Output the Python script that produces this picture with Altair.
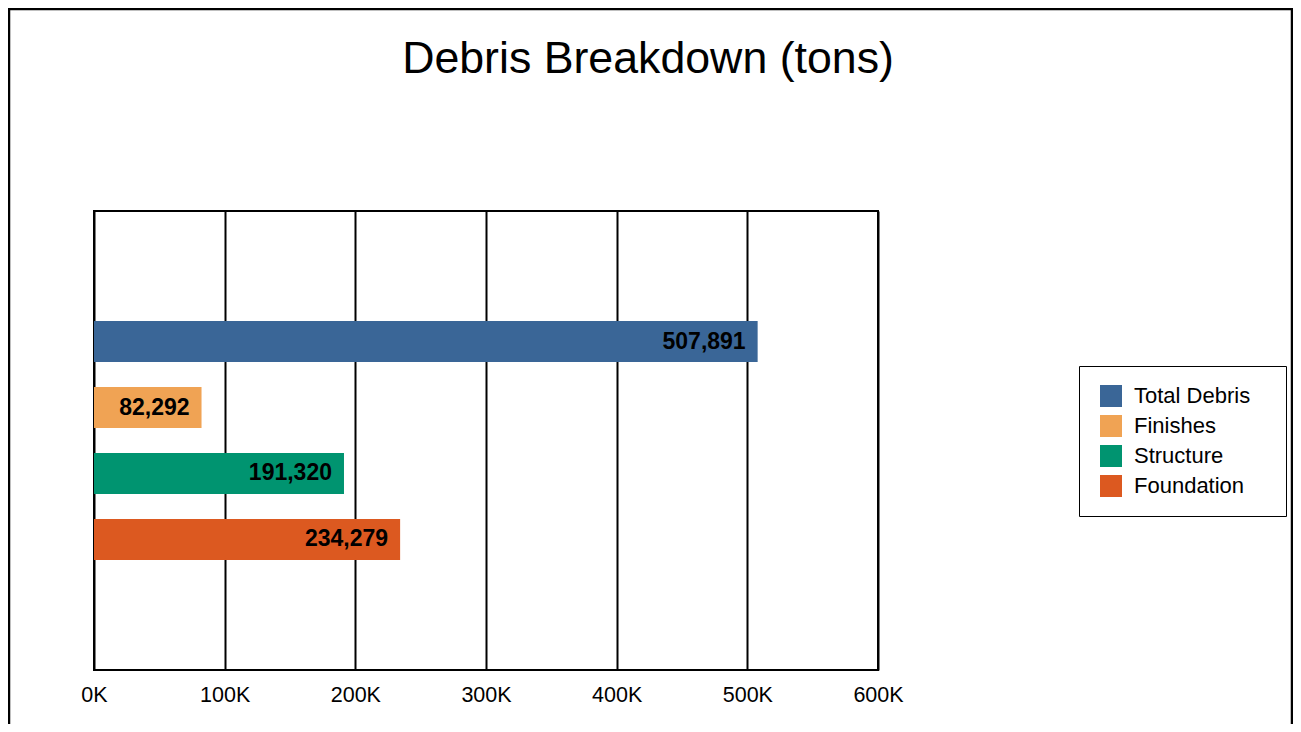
import altair as alt
import pandas as pd

series = ["Total Debris", "Finishes", "Structure", "Foundation"]
values = [507891, 82292, 191320, 234279]
colors = ["#3a6697", "#f0a354", "#009470", "#dc5920"]
x_ticks = [0, 100000, 200000, 300000, 400000, 500000, 600000]
# empty slots above and below the four bars (the reference leaves that space)
y_slots = ["_top"] + series + ["_bottom"]

df = pd.DataFrame({"series": series, "value": values})
df["label"] = [f"{v:,}" for v in values]

FONT = "Liberation Sans"
W, H = 784, 459

x_enc = alt.X(
    "value:Q",
    scale=alt.Scale(domain=[0, 600000], nice=False),
    axis=alt.Axis(
        values=x_ticks,
        labelExpr="datum.value / 1000 + 'K'",
        labelFlush=False,
        labelOverlap=False,
        grid=True,
        gridColor="black",
        gridWidth=2,
        ticks=False,
        tickSize=0,
        domain=False,
        labelPadding=14,
        labelFontSize=21.5,
        labelFont=FONT,
        labelColor="black",
        title=None,
    ),
)
y_scale = alt.Scale(domain=y_slots, paddingInner=0.379, paddingOuter=0.667)

bars = alt.Chart(df).mark_bar().encode(
    x=x_enc,
    y=alt.Y("series:N", scale=y_scale, axis=None),
    color=alt.Color(
        "series:N",
        sort=series,
        scale=alt.Scale(domain=series, range=colors),
        legend=alt.Legend(
            title=None,
            orient="none",
            legendX=985,
            legendY=155,
            symbolType="square",
            symbolSize=484,
            symbolStrokeWidth=0,
            symbolOpacity=1,
            symbolOffset=2,
            labelFontSize=22,
            labelFont=FONT,
            labelColor="black",
            labelOffset=12,
            labelExpr="datum.label + '\u2800'",
            rowPadding=8,
            padding=19,
            strokeColor="black",
            fillColor="white",
        ),
    ),
)

labels = alt.Chart(df).mark_text(
    align="right", baseline="middle", dx=-12, fontSize=23, fontWeight="bold", font=FONT, color="black"
).encode(x="value:Q", y=alt.Y("series:N", scale=y_scale), text="label:N")

border = alt.Chart(pd.DataFrame({"k": [0]})).mark_rect(
    fillOpacity=0, stroke="black", strokeWidth=2.5
).encode(
    x=alt.value(-85), x2=alt.value(1198), y=alt.value(-202), y2=alt.value(540)
)

chart = alt.layer(bars, labels, border).properties(
    width=W,
    height=H,
    title=alt.TitleParams(
        "Debris Breakdown (tons)",
        fontSize=44.7,
        font=FONT,
        fontWeight="normal",
        color="black",
        anchor="middle",
        frame="group",
        dx=162,
        offset=-75,
    ),
    autosize=alt.AutoSizeParams(type="none"),
    padding={"left": 86, "top": 203, "right": 415, "bottom": 54},
    background="white",
).configure_view(stroke="black", strokeWidth=2)

chart.save("out.html", embed_options={"renderer": "svg", "actions": False})
